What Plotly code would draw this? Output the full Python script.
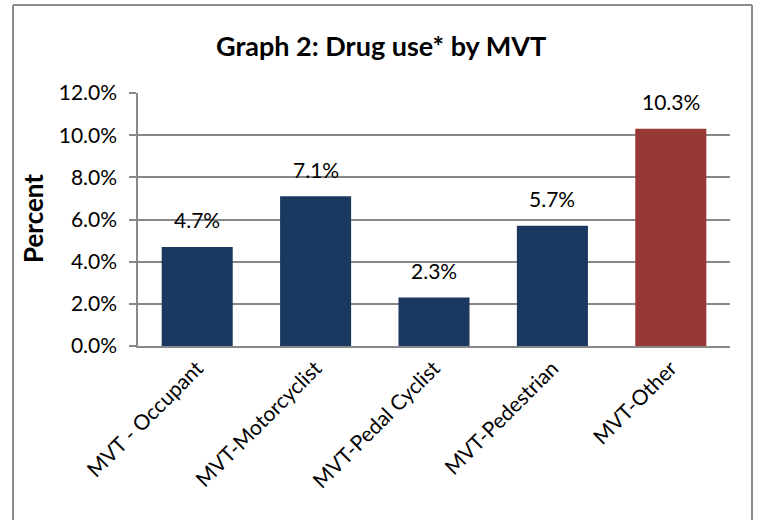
import plotly.graph_objects as go

categories = ["MVT - Occupant", "MVT-Motorcyclist", "MVT-Pedal Cyclist", "MVT-Pedestrian", "MVT-Other"]
values = [4.7, 7.1, 2.3, 5.7, 10.3]
bar_colors = ["#1A3860", "#1A3860", "#1A3860", "#1A3860", "#973836"]
y_ticks = [0, 2, 4, 6, 8, 10, 12]
y_tick_labels = ["0.0%", "2.0%", "4.0%", "6.0%", "8.0%", "10.0%", "12.0%"]
title_text = "Graph 2: Drug use* by MVT"
y_title = "Percent"

W, H = 757, 520
# plot area in screen pixels: x 138..730, y 93..346
L = 138
R = W - 730
T = 93
B = H - 346
pw, ph = W - L - R, H - T - B

def px_x(x):
    return (x - L) / pw

def px_y(y):
    return (H - B - y) / ph

font_family = "Lato, 'Open Sans', sans-serif"
gray = "#888888"
border = "#8C8C8C"

fig = go.Figure()
fig.add_trace(go.Bar(
    x=categories, y=values, marker=dict(color=bar_colors, line=dict(width=0)),
    showlegend=False, hoverinfo="skip"))

for c, v in zip(categories, values):
    fig.add_annotation(x=c, y=v, text=f"{v:.1f}%", showarrow=False,
                       yanchor="middle", yshift=27,
                       font=dict(family=font_family, size=21, color="#000"))

fig.add_annotation(xref="paper", yref="paper", x=px_x(381), y=px_y(46),
                   xanchor="center", yanchor="middle",
                   text=f"<b>{title_text}</b>", showarrow=False,
                   font=dict(family=font_family, size=27, color="#000"))
fig.add_annotation(xref="paper", yref="paper", x=px_x(33), y=px_y(219),
                   xanchor="center", yanchor="middle",
                   text=f"<b>{y_title}</b>", showarrow=False, textangle=-90,
                   font=dict(family=font_family, size=26, color="#000"))

# outer chart border (left, top, right edges; bottom is off-page)
for (x0, y0, x1, y1) in [(13, 5, 13, 520), (13, 5, 752, 5), (752, 5, 752, 520)]:
    fig.add_shape(type="line", xref="paper", yref="paper",
                  x0=px_x(x0), x1=px_x(x1), y0=px_y(y0), y1=px_y(y1),
                  line=dict(color=border, width=2), layer="above")

fig.update_layout(
    width=W, height=H, margin=dict(l=L, r=R, t=T, b=B, autoexpand=False),
    paper_bgcolor="white", plot_bgcolor="white",
    font=dict(family=font_family, size=21, color="#000"),
    bargap=0.4,
    xaxis=dict(showline=True, linecolor=gray, linewidth=1.5, ticks="",
               tickangle=-45, tickfont=dict(size=21), showgrid=False),
    yaxis=dict(range=[0, 12], tickvals=y_ticks, ticktext=y_tick_labels,
               showline=True, linecolor=gray, linewidth=1.5,
               ticks="outside", ticklen=7, tickcolor=gray, tickwidth=1.5,
               showgrid=True, gridcolor=gray, gridwidth=1.5,
               ticklabelstandoff=8, tickfont=dict(size=21), zeroline=False),
)

fig.write_html("out.html", config={"displayModeBar": False},
               post_script="document.body.style.margin='0';document.body.style.overflow='hidden';")
